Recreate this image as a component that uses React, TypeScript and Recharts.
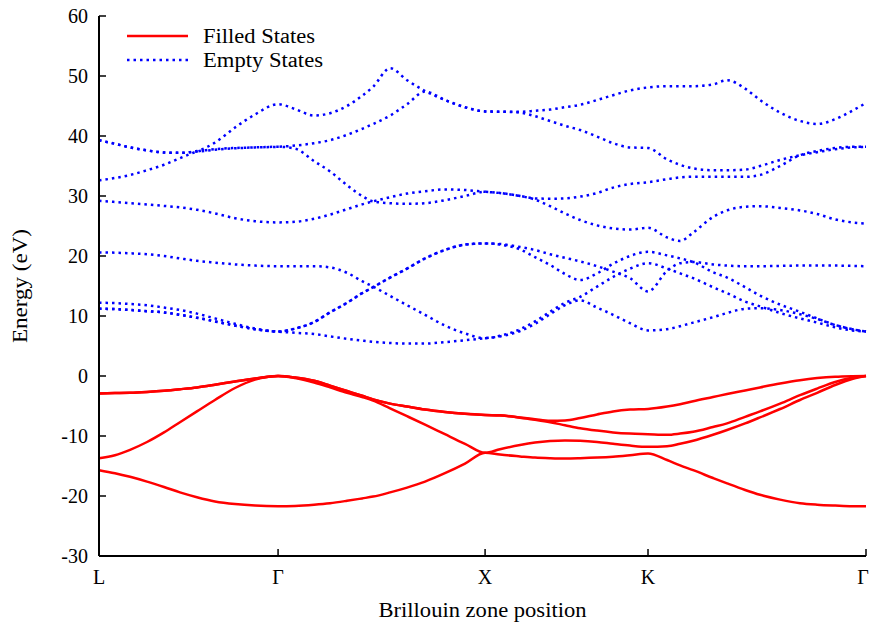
import { LineChart, Line, XAxis, YAxis, Label } from "recharts";

const FONT = "Liberation Serif";

// path length along the Brillouin zone path (Gamma-X = 1)
const kPath = [
  0, 0.077, 0.15, 0.232, 0.314, 0.391, 0.473, 0.56, 0.657, 0.754, 0.865,
  0.947, 1.039, 1.116, 1.198, 1.271, 1.324, 1.406, 1.488, 1.575, 1.671, 1.768, 1.865,
  1.937, 2.034, 2.106, 2.179, 2.251, 2.324, 2.406, 2.483, 2.565, 2.652,
  2.744, 2.807, 2.87, 2.966, 3.034, 3.121, 3.193, 3.29, 3.386, 3.469, 3.556, 3.638, 3.705,
];

const symmetryPoints = [0, 0.865, 1.865, 2.652, 3.705];
const symmetryLabels = ["L", "Γ", "X", "K", "Γ"];
const energyTicks = [-30, -20, -10, 0, 10, 20, 30, 40, 50, 60];

// filled (valence) bands, eV
const filled1 = [
  -15.7, -16.2, -16.8, -17.6, -18.5, -19.4, -20.2, -20.9, -21.35, -21.6, -21.7,
  -21.65, -21.45, -21.2, -20.8, -20.4, -20.1, -19.4, -18.6, -17.6, -16.2, -14.6, -12.8,
  -13.1, -13.4, -13.6, -13.7, -13.75, -13.7, -13.6, -13.45, -13.2, -12.9,
  -14.0, -14.9, -15.7, -17.0, -17.9, -19.0, -19.8, -20.6, -21.2, -21.45, -21.6, -21.7, -21.7,
];
const filled2 = [
  -13.7, -13.2, -12.3, -11.0, -9.4, -7.7, -5.9, -4.0, -2.0, -0.6, 0,
  -0.35, -1.1, -1.9, -2.8, -3.5, -4.1, -5.4, -6.7, -8.1, -9.7, -11.3, -12.8,
  -12.2, -11.5, -11.1, -10.85, -10.75, -10.8, -11.0, -11.3, -11.6, -11.8,
  -11.7, -11.3, -10.8, -9.8, -9.0, -7.9, -6.9, -5.5, -4.0, -2.8, -1.5, -0.5, 0,
];
const filled3 = [
  -2.9, -2.85, -2.8, -2.65, -2.45, -2.2, -1.9, -1.45, -0.9, -0.4, 0,
  -0.25, -0.8, -1.6, -2.5, -3.3, -3.9, -4.6, -5.1, -5.6, -6.0, -6.3, -6.5,
  -6.6, -6.95, -7.3, -7.7, -8.2, -8.7, -9.1, -9.4, -9.6, -9.7,
  -9.8, -9.6, -9.3, -8.5, -7.9, -6.8, -5.9, -4.6, -3.2, -2.1, -1.0, -0.3, 0,
];
const filled4 = [
  -2.9, -2.85, -2.8, -2.65, -2.45, -2.2, -1.9, -1.45, -0.9, -0.4, 0,
  -0.25, -0.8, -1.6, -2.5, -3.3, -3.9, -4.6, -5.1, -5.6, -6.0, -6.3, -6.5,
  -6.55, -6.9, -7.2, -7.45, -7.4, -7.0, -6.4, -5.9, -5.6, -5.5,
  -5.1, -4.7, -4.2, -3.5, -3.0, -2.4, -1.9, -1.25, -0.7, -0.35, -0.12, -0.03, 0,
];

// empty (conduction) bands, eV
const empty1 = [
  11.2, 11.15, 11.0, 10.8, 10.6, 10.2, 9.7, 9.1, 8.4, 7.8, 7.4,
  7.2, 7.0, 6.6, 6.2, 5.9, 5.7, 5.5, 5.4, 5.4, 5.65, 5.95, 6.3,
  6.6, 7.5, 8.7, 10.3, 11.8, 12.6, 11.4, 10.2, 8.8, 7.6,
  7.8, 8.3, 8.9, 9.8, 10.5, 11.2, 11.3, 11.0, 10.3, 9.5, 8.5, 7.8, 7.4,
];
const empty2 = [
  11.2, 11.15, 11.0, 10.8, 10.6, 10.2, 9.7, 9.1, 8.4, 7.8, 7.4,
  7.9, 9.0, 10.6, 12.2, 13.8, 14.8, 16.4, 17.9, 19.6, 21.0, 21.9, 22.1,
  22.0, 21.5, 21.0, 20.3, 19.7, 19.1, 18.3, 17.4, 16.3, 14.1,
  17.5, 18.8, 19.0, 18.6, 18.4, 18.3, 18.3, 18.35, 18.4, 18.4, 18.4, 18.35, 18.3,
];
const empty3 = [
  12.2, 12.15, 12.0, 11.8, 11.4, 11.0, 10.4, 9.6, 8.7, 7.9, 7.4,
  7.9, 9.0, 10.6, 12.2, 13.8, 14.8, 16.4, 17.9, 19.6, 21.0, 21.9, 22.1,
  21.9, 21.1, 19.8, 18.5, 17.0, 16.0, 17.1, 18.7, 20.0, 20.7,
  20.1, 19.6, 19.0, 17.3, 16.4, 14.8, 13.4, 11.9, 10.7, 9.6, 8.5, 7.8, 7.4,
];
const empty4 = [
  20.6, 20.55, 20.45, 20.3, 20.0, 19.6, 19.2, 18.9, 18.6, 18.4, 18.3,
  18.3, 18.3, 18.1, 17.2, 15.8, 14.9, 13.35, 11.8, 10.2, 8.4, 7.1, 6.3,
  6.7, 7.8, 9.1, 10.7, 12.2, 13.2, 14.9, 16.5, 17.9, 18.8,
  17.9, 17.1, 16.3, 14.8, 13.8, 12.4, 11.6, 10.5, 9.6, 8.9, 8.1, 7.6, 7.4,
];
const empty5 = [
  29.2, 29.0, 28.8, 28.6, 28.35, 28.1, 27.7, 27.1, 26.3, 25.8, 25.6,
  25.7, 26.2, 26.9, 27.8, 28.6, 29.1, 29.8, 30.4, 30.8, 31.1, 31.0, 30.7,
  30.5, 30.0, 29.6, 29.55, 29.6, 29.9, 30.5, 31.4, 32.0, 32.3,
  32.8, 33.1, 33.2, 33.2, 33.2, 33.2, 33.5, 35.0, 36.8, 37.5, 38.0, 38.2, 38.2,
];
const empty6 = [
  32.6, 33.0, 33.5, 34.3, 35.2, 36.3, 37.4, 37.8, 38.0, 38.1, 38.2,
  37.9, 35.8, 34.1, 31.8, 30.0, 29.1, 28.8, 28.7, 28.8, 29.3, 30.0, 30.7,
  30.5, 30.0, 29.4, 28.3, 27.1, 26.0, 25.1, 24.6, 24.4, 24.7,
  23.1, 22.5, 23.9, 26.5, 27.6, 28.2, 28.3, 28.0, 27.6, 27.0, 26.1, 25.6, 25.4,
];
const empty7 = [
  39.3, 38.7, 38.1, 37.6, 37.25, 37.2, 37.4, 37.7, 37.95, 38.1, 38.2,
  38.4, 38.8, 39.3, 40.2, 41.2, 42.0, 43.4, 45.3, 47.4, 46.0, 44.8, 44.1,
  44.05, 43.9, 43.3, 42.5, 41.7, 41.0, 39.9, 38.8, 38.1, 38.0,
  36.1, 35.2, 34.6, 34.3, 34.3, 34.4, 35.0, 36.0, 36.8, 37.3, 37.8, 38.1, 38.2,
];
const empty8 = [
  39.3, 38.7, 38.1, 37.6, 37.25, 37.2, 37.5, 38.9, 41.4, 43.6, 45.3,
  44.5, 43.4, 43.8, 45.0, 46.7, 48.2, 51.3, 49.3, 47.5, 46.0, 44.8, 44.1,
  44.05, 44.05, 44.2, 44.4, 44.8, 45.2, 46.0, 46.8, 47.6, 48.1,
  48.3, 48.3, 48.3, 48.6, 49.3, 47.9, 46.0, 43.9, 42.5, 42.0, 42.8, 44.2, 45.5,
];

const filledBands = [filled1, filled2, filled3, filled4];
const emptyBands = [empty1, empty2, empty3, empty4, empty5, empty6, empty7, empty8];

const data = kPath.map((k, i) => {
  const row: Record<string, number> = { k };
  filledBands.forEach((band, j) => (row[`f${j}`] = band[i]));
  emptyBands.forEach((band, j) => (row[`e${j}`] = band[i]));
  return row;
});

const axisLine = { stroke: "#000", strokeWidth: 2 };
const tickLine = { stroke: "#000", strokeWidth: 1.5 };
const tickText = { fill: "#000", fontSize: 20, fontFamily: FONT };

// x tick labels; the last one sits on the right edge, nudge it inside
const SymmetryTick = (props: any) => {
  const { x, y, payload } = props;
  const idx = symmetryPoints.indexOf(payload.value);
  const nudge = idx === symmetryPoints.length - 1 ? -3 : 0;
  return (
    <text
      x={x + nudge}
      y={y}
      dy="0.71em"
      textAnchor="middle"
      fontSize={20}
      fontFamily={FONT}
      fill="#000"
    >
      {symmetryLabels[idx]}
    </text>
  );
};

const XTitle = (props: any) => {
  const vb = props.viewBox || { x: 99, y: 556, width: 767, height: 69 };
  return (
    <text
      x={vb.x + vb.width / 2}
      y={vb.y + 61}
      textAnchor="middle"
      fontSize={20}
      fontFamily={FONT}
      fill="#000"
      textLength={208}
      lengthAdjust="spacingAndGlyphs"
    >
      Brillouin zone position
    </text>
  );
};

const YTitle = (props: any) => {
  const vb = props.viewBox || { x: 0, y: 16, width: 99, height: 540 };
  const cx = vb.x + 27;
  const cy = vb.y + vb.height / 2;
  return (
    <text
      x={cx}
      y={cy}
      transform={`rotate(-90, ${cx}, ${cy})`}
      textAnchor="middle"
      fontSize={20}
      fontFamily={FONT}
      fill="#000"
      textLength={114}
      lengthAdjust="spacingAndGlyphs"
    >
      Energy (eV)
    </text>
  );
};

const BandLegend = () => (
  <svg
    width={870}
    height={625}
    style={{ position: "absolute", left: 0, top: 0, pointerEvents: "none" }}
  >
    <line x1={127} y1={36} x2={188} y2={36} stroke="#ff0000" strokeWidth={2.5} />
    <text x={203} y={43} fontSize={20} fontFamily={FONT} textLength={112} lengthAdjust="spacingAndGlyphs">
      Filled States
    </text>
    <line
      x1={127}
      y1={60}
      x2={188}
      y2={60}
      stroke="#0000ff"
      strokeWidth={2.5}
      strokeDasharray="2.5 4"
    />
    <text x={203} y={67} fontSize={20} fontFamily={FONT} textLength={120} lengthAdjust="spacingAndGlyphs">
      Empty States
    </text>
  </svg>
);

export default function App() {
  return (
    <div
      style={{
        position: "absolute",
        left: 0,
        top: 0,
        width: 870,
        height: 625,
        background: "#fff",
        fontFamily: FONT,
      }}
    >
      <LineChart
        width={870}
        height={625}
        data={data}
        margin={{ top: 16, right: 4, bottom: 0, left: 0 }}
      >
        <XAxis
          dataKey="k"
          type="number"
          domain={[0, 3.705]}
          ticks={symmetryPoints}
          interval={0}
          height={69}
          tickSize={-7}
          tickMargin={21}
          axisLine={axisLine}
          tickLine={tickLine}
          tick={<SymmetryTick />}
        >
          <Label content={XTitle} />
        </XAxis>
        <XAxis
          xAxisId="top"
          orientation="top"
          dataKey="k"
          type="number"
          domain={[0, 3.705]}
          ticks={symmetryPoints}
          interval={0}
          height={0}
          tickSize={-7}
          axisLine={axisLine}
          tickLine={tickLine}
          tick={false}
        />
        <YAxis
          type="number"
          domain={[-30, 60]}
          ticks={energyTicks}
          interval={0}
          width={99}
          tickSize={-7}
          tickMargin={18}
          axisLine={axisLine}
          tickLine={tickLine}
          tick={tickText}
        >
          <Label content={YTitle} />
        </YAxis>
        <YAxis
          yAxisId="right"
          orientation="right"
          type="number"
          domain={[-30, 60]}
          ticks={energyTicks}
          interval={0}
          width={0}
          tickSize={-7}
          axisLine={axisLine}
          tickLine={tickLine}
          tick={false}
        />
        {filledBands.map((_, j) => (
          <Line
            key={`f${j}`}
            dataKey={`f${j}`}
            type="monotone"
            stroke="#ff0000"
            strokeWidth={2.5}
            dot={false}
            activeDot={false}
            isAnimationActive={false}
          />
        ))}
        {emptyBands.map((_, j) => (
          <Line
            key={`e${j}`}
            dataKey={`e${j}`}
            type="monotone"
            stroke="#0000ff"
            strokeWidth={2.5}
            strokeDasharray="2.5 4"
            dot={false}
            activeDot={false}
            isAnimationActive={false}
          />
        ))}
      </LineChart>
      <BandLegend />
    </div>
  );
}
